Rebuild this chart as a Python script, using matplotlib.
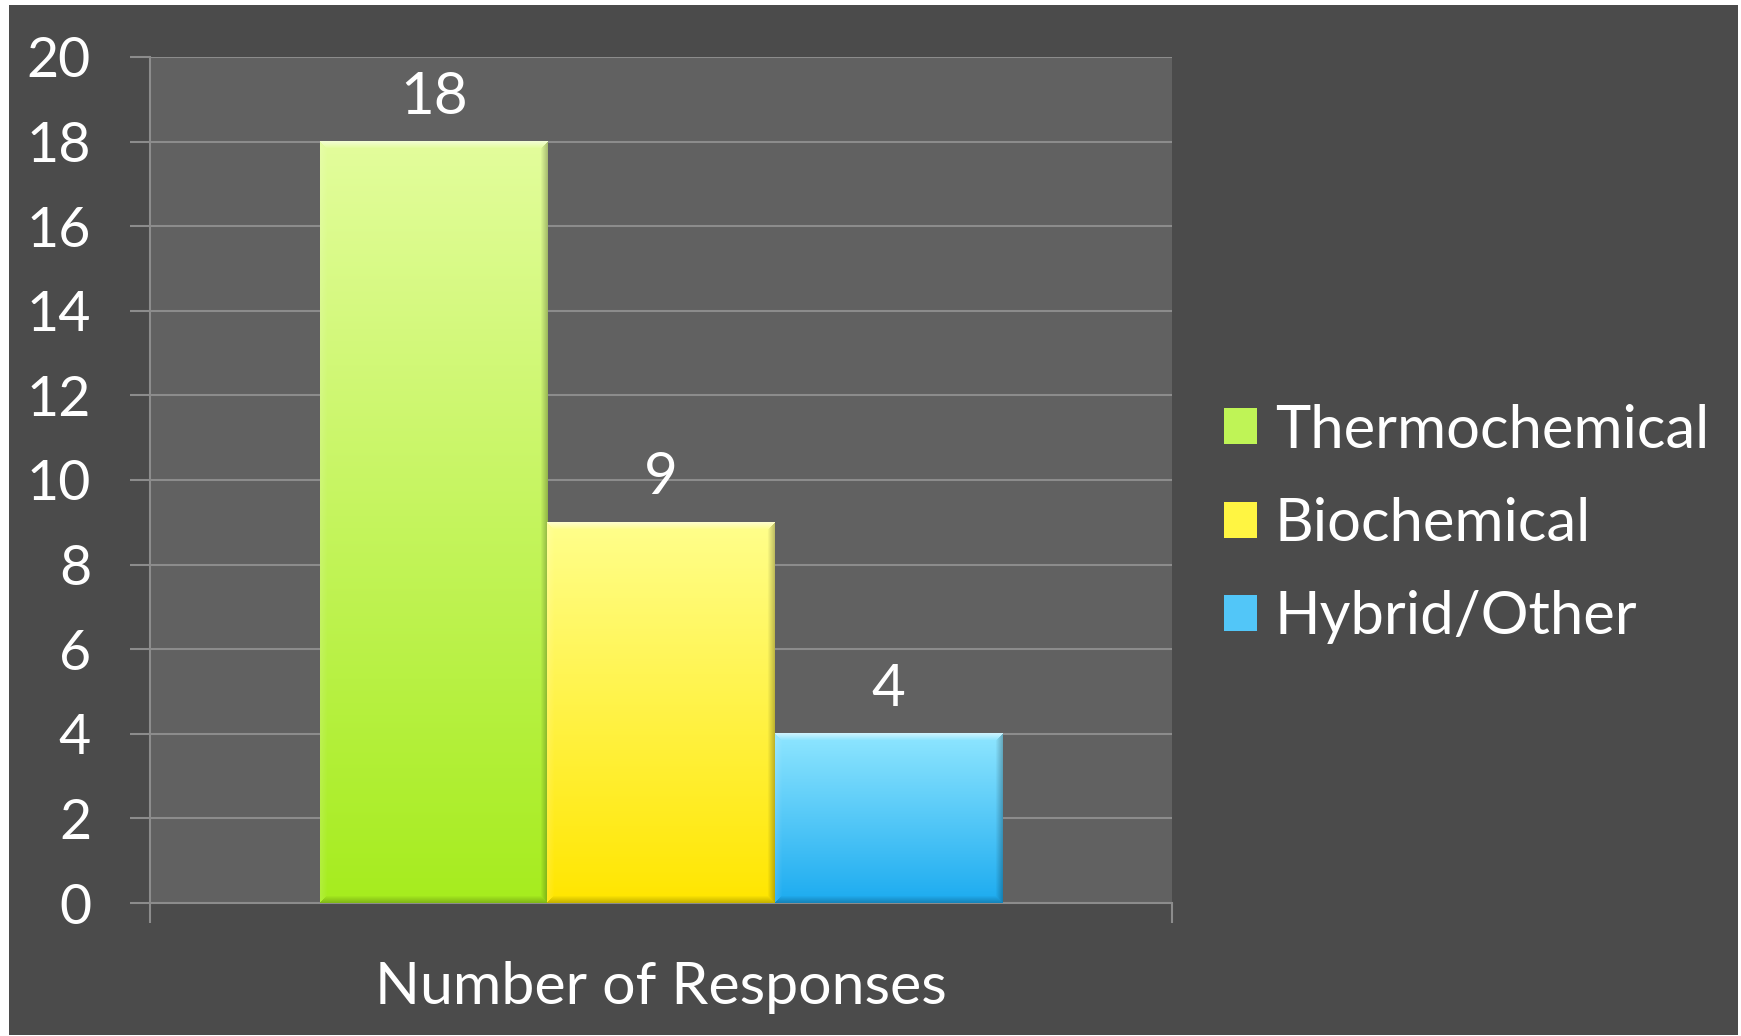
import numpy as np
import matplotlib.pyplot as plt
from matplotlib.patches import Rectangle
from matplotlib.colors import to_rgb

plt.rcParams['font.family'] = ['Lato', 'DejaVu Sans']

# datos
categoria = 'Number of Responses'
series = ['Thermochemical', 'Biochemical', 'Hybrid/Other']
valores = [18, 9, 4]
yticks = [0, 2, 4, 6, 8, 10, 12, 14, 16, 18, 20]

color_arriba = ['#E3FD9C', '#FFFF8C', '#8FE6FF']
color_abajo = ['#A6EC1E', '#FFE600', '#1CABF0']
color_medio = ['#BFF456', '#FFF542', '#52C6F8']

W, H = 1741, 1036
gris_fondo = '#4B4B4B'
gris_area = '#616161'
gris_linea = '#8C8C8C'


def relleno(ax, barra, arriba, abajo, b=7):
    # degradado vertical con bisel, en pixeles de la barra
    x0, y0 = barra.get_x(), barra.get_y()
    x1, y1 = x0 + barra.get_width(), y0 + barra.get_height()
    (px0, py0), (px1, py1) = ax.transData.transform([(x0, y0), (x1, y1)])
    w, h = int(round(px1 - px0)), int(round(py1 - py0))
    t = np.linspace(0, 1, h)[:, None, None]
    c1, c2 = np.array(to_rgb(arriba)), np.array(to_rgb(abajo))
    img = np.broadcast_to(c1 * (1 - t) + c2 * t, (h, w, 3)).copy()
    ii, jj = np.mgrid[0:h, 0:w]
    dist = np.stack([ii, h - 1 - ii, jj, w - 1 - jj])
    lado = dist.argmin(axis=0)
    m = dist.min(axis=0)
    f = np.clip(1 - m / b, 0, 1)[..., None]
    # arriba claro, izquierda algo claro, derecha y abajo oscuros
    mezcla = {0: (1.0, 0.55), 1: (0.0, 0.22), 2: (1.0, 0.12), 3: (0.0, 0.25)}
    for k, (dest, fuerza) in mezcla.items():
        sel = (lado == k)[..., None]
        img = np.where(sel, img * (1 - f * fuerza) + dest * f * fuerza, img)
    ax.imshow(img, extent=(x0, x1, y0, y1), aspect='auto', zorder=3.5,
              interpolation='bilinear')


fig = plt.figure(figsize=(W / 100, H / 100), dpi=100)
fig.patch.set_facecolor('white')
fig.add_artist(Rectangle((9 / W, 1 / H), 1729 / W, 1030 / H, transform=fig.transFigure,
                         facecolor=gris_fondo, edgecolor='none', zorder=-1))

ax = fig.add_axes([150 / W, 1 - 903 / H, 1022 / W, 846 / H])
ax.set_facecolor(gris_area)
ax.set_xlim(-0.5, 0.5)
ax.set_ylim(0, 20)

ancho = 2 / 9
pos = (np.arange(len(valores)) - 1) * ancho
barras = []
for i in range(len(valores)):
    b = ax.bar(pos[i], valores[i], ancho, color=color_medio[i], edgecolor='none',
               zorder=3, label=series[i])
    barras.append(b)
    ax.bar_label(b, padding=13, fontsize=42, color='white')

for i, b in enumerate(barras):
    relleno(ax, b[0], color_arriba[i], color_abajo[i])

ax.set_xlim(-0.5, 0.5)
ax.set_ylim(0, 20)

ax.set_yticks(yticks)
ax.yaxis.grid(True, color=gris_linea, lw=1.5)
ax.set_axisbelow(True)
ax.tick_params(axis='y', length=14.4, width=1.5, color=gris_linea, labelsize=40,
               labelcolor='white', pad=28)
ax.set_xticks([0], [categoria])
ax.set_xticks([-0.5, 0.5], minor=True)
ax.tick_params(axis='x', which='major', length=0, labelsize=42.5, labelcolor='white', pad=42)
ax.tick_params(axis='x', which='minor', length=14.4, width=1.5, color=gris_linea)
for s in ['top', 'right']:
    ax.spines[s].set_visible(False)
for s in ['left', 'bottom']:
    ax.spines[s].set_color(gris_linea)
    ax.spines[s].set_linewidth(1.5)

ax.legend(loc='center left', bbox_to_anchor=(1224 / W, 1 - 524 / H),
          bbox_transform=fig.transFigure, frameon=False, fontsize=43,
          labelcolor='white', handlelength=0.55, handleheight=0.55,
          handletextpad=0.3, labelspacing=0.66, borderaxespad=0, borderpad=0)

plt.savefig('out.png', dpi=100, facecolor=fig.get_facecolor())
